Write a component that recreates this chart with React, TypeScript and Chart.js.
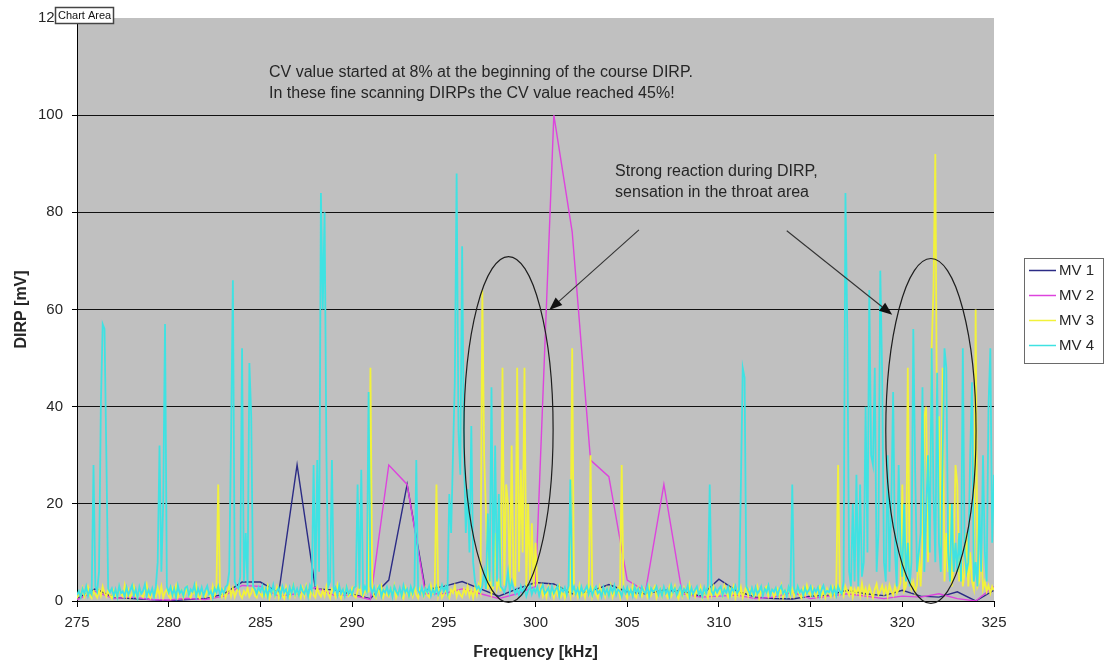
import React, { useEffect, useRef } from "react";
import { Chart, registerables } from "chart.js";

Chart.register(...registerables);

// ---------- data ----------
const SERIES_NAMES = ["MV 1", "MV 2", "MV 3", "MV 4"];
const X_TICKS = [275, 280, 285, 290, 295, 300, 305, 310, 315, 320, 325];
const Y_TICKS = [0, 20, 40, 60, 80, 100, 120];

// coarse sweep (1 kHz steps) used by MV 1 and MV 2
const COARSE_START = 275;
const COARSE_STEP = 1;
const mv1 = [
  0.5, 2.5, 0.7, 0.5, 0.3, 0.0, 0.3, 0.5, 1.4, 3.9,
  3.9, 1.7, 28, 2.5, 2.3, 1.4, 0.5, 4.3, 24, 2.3,
  3.0, 4.0, 2.5, 1.0, 2.5, 3.8, 3.5, 1.5, 2.0, 3.4,
  1.9, 1.5, 2.2, 2.0, 1.0, 4.5, 2.0, 0.8, 0.5, 0.4,
  1.0, 1.2, 2.2, 1.5, 1.1, 2.2, 1.0, 0.8, 1.9, 0.0,
  2.2,
];
const mv2 = [
  0.3, 2.0, 0.5, 0.8, 0.3, 0.2, 0.5, 0.3, 1.0, 3.2,
  3.0, 1.0, 1.5, 2.8, 1.2, 1.2, 0.3, 28, 24, 1.5,
  1.5, 2.5, 1.5, 0.5, 1.5, 3.0, 100, 76, 29, 25.6,
  4.3, 2.0, 24, 1.5, 0.8, 1.0, 1.2, 0.5, 0.8, 1.8,
  0.5, 1.0, 1.5, 1.0, 0.5, 1.0, 0.8, 1.5, 0.5, 0.0,
  3.0,
];

// fine sweep (0.1 kHz steps) used by MV 3 and MV 4, one row per kHz
const FINE_START = 275;
const FINE_STEP = 0.1;
const mv3 = [
  0.5, 1.8, 1.0, 2.6, 0.8, 1.5, 2.9, 1.2, 0.6, 2.0, // 275
  1.4, 0.7, 2.2, 1.0, 3.0, 1.6, 0.9, 2.4, 1.1, 0.5, // 276
  2.1, 1.2, 0.6, 2.8, 1.5, 0.9, 3.2, 1.0, 2.3, 0.7, // 277
  1.6, 3.0, 1.1, 0.5, 2.5, 1.3, 0.8, 2.0, 3.4, 1.0, // 278
  0.6, 2.2, 1.5, 0.9, 2.7, 1.1, 3.0, 0.7, 1.8, 2.4, // 279
  1.0, 0.5, 2.6, 1.4, 3.1, 0.8, 1.9, 2.3, 0.6, 1.5, // 280
  2.8, 1.2, 0.7, 2.0, 1.6, 3.3, 1.0, 0.5, 2.5, 1.3, // 281
  0.9, 2.4, 1.4, 0.6, 3.0, 1.1, 2.0, 24, 1.5, 0.8, // 282
  2.2, 0.7, 1.7, 3.1, 1.0, 2.6, 0.8, 1.9, 2.9, 1.2, // 283
  0.6, 2.0, 1.3, 2.7, 0.9, 1.6, 3.2, 1.1, 0.7, 2.3, // 284
  1.5, 0.9, 2.5, 1.2, 3.0, 0.6, 1.8, 2.2, 1.0, 2.8, // 285
  0.8, 2.4, 1.1, 0.5, 2.9, 1.4, 0.7, 2.1, 3.3, 1.0, // 286
  2.0, 1.3, 0.6, 2.6, 1.0, 3.1, 1.7, 0.8, 2.4, 1.2, // 287
  0.7, 2.8, 1.5, 0.9, 2.2, 1.0, 3.0, 1.4, 0.6, 2.5, // 288
  1.9, 0.8, 3.2, 1.2, 0.5, 2.3, 1.6, 2.9, 1.0, 1.4, // 289
  2.6, 1.1, 0.7, 2.0, 3.4, 1.3, 0.9, 2.5, 1.7, 2.0, // 290
  48, 2.4, 1.0, 0.6, 2.7, 1.5, 3.0, 0.8, 2.1, 1.2, // 291
  0.9, 2.6, 1.4, 3.1, 0.7, 1.8, 2.3, 1.1, 0.5, 2.8, // 292
  1.6, 0.8, 2.2, 1.0, 3.0, 1.3, 0.6, 2.5, 1.9, 0.9, // 293
  2.7, 1.2, 0.8, 3.2, 1.5, 2.0, 24, 1.0, 2.4, 0.7, // 294
  1.4, 2.9, 1.1, 0.6, 2.3, 1.7, 3.1, 0.9, 2.0, 1.3, // 295
  0.8, 2.5, 1.5, 3.0, 1.0, 2.2, 0.6, 2.7, 1.2, 3.3, // 296
  1.9, 64, 30, 18, 2.4, 6, 1.5, 3.0, 14, 2.6, // 297
  4, 2.0, 48, 3.2, 24, 20, 2.8, 32, 5, 3.0, // 298
  48, 6, 27, 10, 48, 3, 20, 4, 16, 3.0, // 299
  12, 2.5, 1.6, 3.1, 1.0, 2.3, 0.8, 2.9, 1.4, 2.0, // 300
  0.7, 2.6, 1.3, 3.0, 1.0, 2.2, 0.6, 1.8, 2.7, 1.1, // 301
  52, 1.5, 2.4, 0.9, 3.2, 1.2, 2.0, 0.7, 2.8, 1.6, // 302
  30, 1.0, 2.5, 1.4, 0.6, 3.0, 1.8, 2.2, 0.9, 2.6, // 303
  1.2, 3.1, 0.8, 2.0, 1.6, 2.7, 1.0, 28, 2.3, 1.4, // 304
  0.6, 2.4, 1.5, 3.2, 1.1, 0.7, 2.8, 1.9, 1.0, 2.5, // 305
  1.7, 0.8, 2.9, 1.2, 2.2, 3.0, 0.6, 1.5, 2.6, 1.0, // 306
  2.3, 1.4, 0.7, 2.8, 1.0, 1.9, 3.1, 1.2, 0.5, 2.4, // 307
  1.0, 2.7, 1.6, 0.8, 3.3, 1.3, 2.0, 0.9, 2.5, 1.5, // 308
  2.9, 0.7, 2.1, 1.4, 0.6, 2.6, 1.1, 3.0, 1.8, 0.9, // 309
  1.5, 2.3, 1.0, 3.1, 1.7, 0.8, 2.5, 1.2, 2.9, 0.6, // 310
  2.2, 1.1, 2.8, 0.7, 1.9, 3.2, 1.0, 2.4, 1.5, 0.8, // 311
  1.3, 2.9, 0.6, 2.0, 1.4, 2.6, 3.0, 0.9, 1.7, 2.3, // 312
  0.8, 1.6, 2.5, 1.1, 3.1, 0.7, 2.2, 1.5, 2.8, 1.0, // 313
  2.4, 0.9, 1.8, 2.9, 1.2, 0.6, 2.6, 1.3, 3.2, 1.7, // 314
  1.1, 2.7, 1.4, 0.8, 2.3, 3.0, 1.0, 2.0, 0.7, 2.5, // 315
  1.6, 0.9, 2.8, 1.2, 3.1, 28, 1.5, 2.2, 1.0, 3.0, // 316
  2.0, 1.2, 3.4, 0.8, 2.5, 1.6, 2.9, 1.1, 3.6, 1.4, // 317
  2.6, 1.0, 3.0, 1.8, 0.7, 2.4, 3.5, 1.3, 2.1, 3.2, // 318
  1.5, 2.8, 1.0, 3.3, 2.0, 1.2, 3.0, 1.6, 2.5, 3.8, // 319
  24, 2.1, 3.0, 48, 6, 2.6, 4, 1.8, 3.2, 10, // 320
  3, 12, 38, 40, 8, 20, 52, 64, 92, 30, // 321
  38, 10, 48, 4, 14, 6, 20, 3, 8, 28, // 322
  24, 4, 12, 3, 6, 14, 3, 10, 4, 2.5, // 323
  60, 3, 4, 12, 2.5, 4, 2.0, 3.2, 1.6, 3.0, // 324
  2.2, // 325
];
const mv4 = [
  1.2, 2.0, 0.8, 2.5, 1.5, 3.0, 1.0, 2.2, 1.4, 28, // 275
  3.0, 2.0, 6, 40, 57, 56, 30, 2.5, 1.8, 2.6, // 276
  1.0, 2.4, 0.8, 3.1, 1.6, 2.0, 0.9, 2.8, 1.3, 2.2, // 277
  3.2, 1.1, 2.4, 0.7, 2.9, 1.5, 2.1, 3.4, 1.0, 2.3, // 278
  1.4, 2.6, 0.9, 3.0, 8, 32, 6, 20, 57, 3.0, // 279
  1.8, 2.9, 1.2, 2.5, 0.8, 3.2, 1.6, 2.2, 1.0, 2.7, // 280
  3.0, 1.3, 2.4, 1.9, 3.3, 0.9, 2.6, 1.5, 2.8, 1.1, // 281
  2.2, 3.1, 1.4, 2.0, 0.7, 2.6, 1.8, 3.0, 1.2, 2.4, // 282
  1.6, 2.9, 3.3, 6, 33, 66, 4, 3.0, 2.5, 5, // 283
  52, 4, 14, 3.0, 49, 38, 3, 2.4, 1.5, 2.8, // 284
  2.0, 3.1, 1.3, 2.6, 1.0, 2.9, 1.7, 3.3, 1.2, 2.1, // 285
  2.7, 1.1, 3.0, 1.8, 2.4, 0.9, 2.8, 1.6, 3.2, 1.4, // 286
  2.5, 1.2, 3.0, 2.0, 1.5, 2.8, 1.0, 3.2, 2.2, 28, // 287
  3, 29, 6, 84, 60, 80, 30, 3, 4, 29, // 288
  2.0, 2.8, 1.2, 3.1, 1.6, 2.4, 1.0, 2.9, 1.5, 2.2, // 289
  1.3, 2.7, 3.0, 24, 2.5, 27, 1.8, 3.0, 2.0, 43, // 290
  3.0, 1.6, 2.8, 1.2, 2.5, 3.1, 1.0, 2.3, 1.7, 2.9, // 291
  1.4, 2.6, 0.9, 3.0, 2.0, 1.3, 2.7, 1.1, 3.2, 1.8, // 292
  2.5, 1.0, 2.9, 1.6, 3.1, 29, 2.2, 1.4, 2.8, 1.2, // 293
  2.6, 1.8, 3.0, 1.1, 2.4, 1.5, 2.9, 1.3, 2.1, 3.3, // 294
  2.0, 3.0, 1.6, 22, 14, 30, 45, 88, 35, 26, // 295
  73, 30, 14, 23, 10, 36, 8, 4, 2.5, 3.0, // 296
  2.0, 3.1, 6, 2.5, 18, 4, 44, 3, 32, 4, // 297
  22, 3, 2.5, 1.8, 3.2, 6, 2.0, 4, 2.6, 1.5, // 298
  2.4, 1.2, 3.0, 1.6, 2.8, 1.0, 2.2, 3.2, 1.4, 2.6, // 299
  1.8, 2.9, 1.1, 2.5, 3.3, 1.5, 2.0, 2.7, 1.2, 3.0, // 300
  1.6, 2.4, 3.1, 1.0, 2.6, 1.9, 2.8, 1.3, 3.2, 25, // 301
  2.0, 3.0, 1.5, 2.6, 1.1, 2.9, 1.7, 2.3, 3.1, 1.4, // 302
  2.7, 1.2, 2.4, 3.0, 1.6, 2.1, 0.9, 2.8, 1.5, 2.5, // 303
  1.1, 2.9, 1.8, 3.2, 1.3, 2.4, 2.0, 1.0, 2.7, 1.6, // 304
  2.8, 1.4, 2.3, 1.0, 3.0, 1.7, 2.5, 1.2, 2.9, 2.0, // 305
  1.5, 3.1, 1.0, 2.6, 1.9, 2.2, 3.0, 1.3, 2.4, 1.1, // 306
  2.9, 1.6, 2.4, 1.0, 3.2, 1.8, 2.6, 1.2, 2.2, 3.0, // 307
  1.3, 2.5, 1.9, 3.1, 1.0, 2.7, 1.5, 2.3, 3.0, 1.4, // 308
  2.2, 1.0, 2.8, 1.6, 3.1, 24, 2.0, 1.3, 2.6, 1.8, // 309
  2.5, 3.0, 1.2, 2.4, 1.7, 2.9, 1.1, 2.6, 2.0, 3.1, // 310
  1.6, 2.3, 24, 48, 46, 3.0, 2.2, 1.4, 2.7, 1.2, // 311
  2.8, 1.5, 2.1, 3.0, 1.1, 2.5, 1.8, 3.2, 1.3, 2.4, // 312
  1.9, 2.7, 1.2, 2.4, 3.1, 1.5, 2.2, 1.0, 2.9, 1.7, // 313
  24, 2.6, 1.4, 3.0, 1.8, 2.3, 1.1, 2.7, 1.6, 2.2, // 314
  3.0, 1.3, 2.5, 1.9, 2.8, 1.0, 2.4, 3.2, 1.5, 2.1, // 315
  1.8, 2.9, 1.4, 2.6, 1.1, 3.0, 2.0, 1.5, 4, 84, // 316
  56, 6, 3, 20, 4, 26, 3, 24, 5, 8, // 317
  40, 10, 64, 30, 28, 48, 6, 14, 68, 47, // 318
  8, 4, 30, 6, 20, 43, 10, 3, 28, 12, // 319
  5, 20, 4, 12, 3, 8, 56, 27, 6, 10, // 320
  14, 44, 6, 18, 30, 10, 52, 22, 8, 47, // 321
  12, 6, 30, 52, 48, 10, 4, 20, 6, 12, // 322
  6, 14, 4, 52, 10, 6, 8, 30, 45, 4, // 323
  8, 3, 20, 6, 30, 10, 4, 40, 52, 12, // 324
  26, // 325
];

// annotation anchors in data units (kHz, mV)
const NOTE_CV_LINES = [
  "CV value started at 8% at the beginning of the course DIRP.",
  "In these fine scanning DIRPs the CV value reached 45%!",
];
const NOTE_CV_POS = { x: 285.47, y: [108.8, 104.5] };
const NOTE_REACT_LINES = ["Strong reaction during DIRP,", "sensation in the throat area"];
const NOTE_REACT_POS = { x: 304.34, y: [88.4, 84.0] };
const ARROWS = [
  { from: [305.64, 76.4], to: [300.75, 59.9] },
  { from: [313.7, 76.2], to: [319.45, 58.9] },
];
const ELLIPSES = [
  { cx: 298.53, cy: 35.3, rx: 2.43, ry: 35.6 },
  { cx: 321.56, cy: 35.0, rx: 2.46, ry: 35.5 },
];

// ---------- styling ----------
const FONT = '"Liberation Sans", Arial, sans-serif';
const TEXT = "#262626";
const PLOT_BG = "#c0c0c0";
const COLORS = ["#2b2b85", "#dd44dd", "#f2f23a", "#3fe2e2"];

const toPoints = (vals: number[], start: number, step: number) =>
  vals.map((v, i) => ({ x: +(start + i * step).toFixed(2), y: v }));

const excelPlugin = {
  id: "excelDecor",
  beforeDraw(chart: any) {
    const { ctx, chartArea: a } = chart;
    ctx.save();
    ctx.fillStyle = PLOT_BG;
    ctx.fillRect(a.left, a.top, a.right - a.left, a.bottom - a.top);
    ctx.restore();
  },
  afterDraw(chart: any) {
    const { ctx, chartArea: a } = chart;
    const xs = chart.scales.x;
    const ys = chart.scales.y;
    const px = (f: number) => xs.getPixelForValue(f);
    const py = (v: number) => ys.getPixelForValue(v);
    ctx.save();

    // ellipses
    ctx.strokeStyle = "#1e1e1e";
    ctx.lineWidth = 1.2;
    ELLIPSES.forEach((e) => {
      const cx = px(e.cx);
      const cy = py(e.cy);
      const rx = Math.abs(px(e.cx + e.rx) - cx);
      const ry = Math.abs(py(e.cy + e.ry) - cy);
      ctx.beginPath();
      ctx.ellipse(cx, cy, rx, ry, 0, 0, Math.PI * 2);
      ctx.stroke();
    });

    // arrows
    ARROWS.forEach((ar) => {
      const x1 = px(ar.from[0]);
      const y1 = py(ar.from[1]);
      const x2 = px(ar.to[0]);
      const y2 = py(ar.to[1]);
      const ang = Math.atan2(y2 - y1, x2 - x1);
      const len = 13;
      const half = 5;
      const bx = x2 - len * Math.cos(ang);
      const by = y2 - len * Math.sin(ang);
      ctx.strokeStyle = "#333";
      ctx.lineWidth = 1.1;
      ctx.beginPath();
      ctx.moveTo(x1, y1);
      ctx.lineTo(bx, by);
      ctx.stroke();
      ctx.fillStyle = "#111";
      ctx.beginPath();
      ctx.moveTo(x2, y2);
      ctx.lineTo(bx + half * Math.sin(ang), by - half * Math.cos(ang));
      ctx.lineTo(bx - half * Math.sin(ang), by + half * Math.cos(ang));
      ctx.closePath();
      ctx.fill();
    });

    // notes
    ctx.fillStyle = TEXT;
    ctx.font = `16px ${FONT}`;
    ctx.textAlign = "left";
    ctx.textBaseline = "middle";
    NOTE_CV_LINES.forEach((t, i) => ctx.fillText(t, px(NOTE_CV_POS.x), py(NOTE_CV_POS.y[i])));
    NOTE_REACT_LINES.forEach((t, i) => ctx.fillText(t, px(NOTE_REACT_POS.x), py(NOTE_REACT_POS.y[i])));

    // legend
    const lx = a.right + 30;
    const ly = 258;
    const lw = 79;
    const lh = 105;
    ctx.fillStyle = "#ffffff";
    ctx.fillRect(lx, ly, lw, lh);
    ctx.strokeStyle = "#6a6a6a";
    ctx.lineWidth = 1;
    ctx.strokeRect(lx + 0.5, ly + 0.5, lw, lh);
    ctx.font = `15px ${FONT}`;
    SERIES_NAMES.forEach((name, i) => {
      const y = ly + 12 + i * 25 + 0.5;
      ctx.strokeStyle = COLORS[i];
      ctx.lineWidth = 1.5;
      ctx.beginPath();
      ctx.moveTo(lx + 5, y);
      ctx.lineTo(lx + 32, y);
      ctx.stroke();
      ctx.fillStyle = TEXT;
      ctx.fillText(name, lx + 35, y);
    });

    // "Chart Area" hover tag
    const tx = a.left - 22;
    const ty = a.top - 11;
    ctx.fillStyle = "#ffffff";
    ctx.fillRect(tx, ty, 59, 17);
    ctx.strokeStyle = "#444";
    ctx.strokeRect(tx + 0.5, ty + 0.5, 58, 16);
    ctx.fillStyle = "#111";
    ctx.font = `11px ${FONT}`;
    ctx.fillText("Chart Area", tx + 3, ty + 9);

    ctx.restore();
  },
};

export default function App() {
  const ref = useRef<HTMLCanvasElement | null>(null);

  useEffect(() => {
    if (!ref.current) return;
    const datasets = [
      { label: SERIES_NAMES[0], data: toPoints(mv1, COARSE_START, COARSE_STEP), order: 4 },
      { label: SERIES_NAMES[1], data: toPoints(mv2, COARSE_START, COARSE_STEP), order: 3 },
      { label: SERIES_NAMES[2], data: toPoints(mv3, FINE_START, FINE_STEP), order: 2 },
      { label: SERIES_NAMES[3], data: toPoints(mv4, FINE_START, FINE_STEP), order: 1 },
    ].map((d, i) => ({
      ...d,
      borderColor: COLORS[i],
      backgroundColor: COLORS[i],
      borderWidth: i < 2 ? 1.4 : 1.8,
      pointRadius: 0,
      tension: 0,
      fill: false,
    }));

    const chart = new Chart(ref.current, {
      type: "line",
      data: { datasets },
      plugins: [excelPlugin],
      options: {
        animation: false,
        responsive: false,
        devicePixelRatio: 1,
        layout: { padding: { top: 18, right: 116, left: 0, bottom: 0 } },
        plugins: { legend: { display: false }, tooltip: { enabled: false } },
        scales: {
          x: {
            type: "linear",
            min: 275,
            max: 325,
            afterBuildTicks: (s: any) => {
              s.ticks = X_TICKS.map((v) => ({ value: v }));
            },
            afterFit: (s: any) => {
              s.height = 68;
            },
            ticks: {
              color: TEXT,
              font: { family: FONT, size: 15 },
              padding: 7,
              maxRotation: 0,
              autoSkip: false,
            },
            grid: {
              display: true,
              drawOnChartArea: false,
              drawTicks: true,
              tickLength: 6,
              color: "#000",
            },
            border: { display: true, color: "#000", width: 1 },
            title: {
              display: true,
              text: "Frequency [kHz]",
              color: TEXT,
              font: { family: FONT, size: 16, weight: "bold" },
              padding: { top: 0, bottom: 7 },
            },
          },
          y: {
            type: "linear",
            min: 0,
            max: 120,
            afterBuildTicks: (s: any) => {
              s.ticks = Y_TICKS.map((v) => ({ value: v }));
            },
            afterFit: (s: any) => {
              s.width = 77;
            },
            ticks: {
              color: TEXT,
              font: { family: FONT, size: 15 },
              padding: 9,
            },
            grid: {
              color: (c: any) => (c.tick && c.tick.value === 120 ? "rgba(0,0,0,0)" : "#111"),
              tickColor: "#000",
              drawTicks: true,
              tickLength: 5,
            },
            border: { display: true, color: "#000", width: 1 },
            title: {
              display: true,
              text: "DIRP [mV]",
              color: TEXT,
              font: { family: FONT, size: 16, weight: "bold" },
              padding: { top: 12, bottom: 0 },
            },
          },
        },
      },
    } as any);
    return () => chart.destroy();
  }, []);

  return (
    <div style={{ position: "absolute", left: 0, top: 0, width: 1110, height: 669, background: "#fff" }}>
      <canvas ref={ref} width={1110} height={669} style={{ display: "block" }} />
    </div>
  );
}
